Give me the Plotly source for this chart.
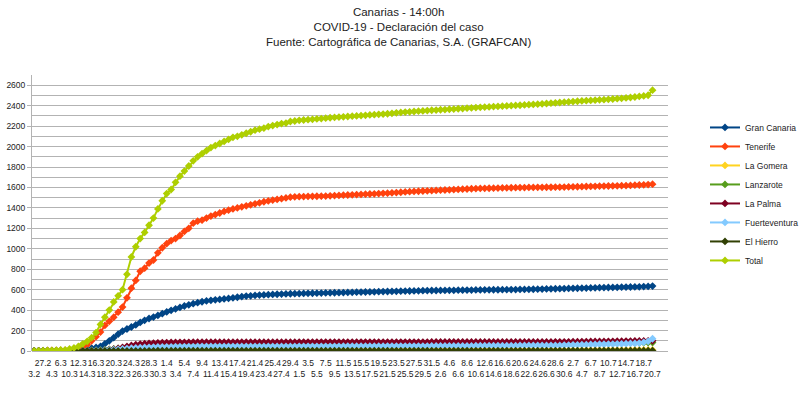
import plotly.graph_objects as go

dates = [
    "3.2", "24.2", "27.2", "1.3", "4.3", "5.3", "6.3", "9.3",
    "10.3", "11.3", "12.3", "13.3", "14.3", "15.3", "16.3", "17.3", "18.3", "19.3",
    "20.3", "21.3", "22.3", "23.3", "24.3", "25.3", "26.3", "27.3", "28.3", "29.3",
    "30.3", "31.3",
    "1.4", "2.4", "3.4", "4.4", "5.4", "6.4", "7.4", "8.4", "9.4", "10.4",
    "11.4", "12.4", "13.4", "14.4", "15.4", "16.4", "17.4", "18.4", "19.4", "20.4",
    "21.4", "22.4", "23.4", "24.4", "25.4", "26.4", "27.4", "28.4", "29.4", "30.4",
    "1.5", "2.5", "3.5", "4.5", "5.5", "6.5", "7.5", "8.5", "9.5", "10.5",
    "11.5", "12.5", "13.5", "14.5", "15.5", "16.5", "17.5", "18.5", "19.5", "20.5",
    "21.5", "22.5", "23.5", "24.5", "25.5", "26.5", "27.5", "28.5", "29.5", "30.5",
    "31.5",
    "1.6", "2.6", "3.6", "4.6", "5.6", "6.6", "7.6", "8.6", "9.6", "10.6",
    "11.6", "12.6", "13.6", "14.6", "15.6", "16.6", "17.6", "18.6", "19.6", "20.6",
    "21.6", "22.6", "23.6", "24.6", "25.6", "26.6", "27.6", "28.6", "29.6", "30.6",
    "1.7", "2.7", "3.7", "4.7", "5.7", "6.7", "7.7", "8.7", "9.7", "10.7",
    "11.7", "12.7", "13.7", "14.7", "15.7", "16.7", "17.7", "18.7", "19.7", "20.7",
]

gran_canaria = [
    0, 0, 0, 0, 1, 2, 3, 4,
    6, 8, 10, 14, 20, 28, 35, 45, 70, 100,
    130, 165, 195, 215, 235, 255, 280, 300, 318, 332,
    348, 365, 382, 398, 412, 426, 440, 452, 463, 473,
    482, 490, 496, 501, 505, 509, 514, 520, 526, 532,
    537, 540, 544, 547, 549, 551, 553, 555, 557, 558,
    560, 561,
    562, 563, 564, 565, 566, 567, 568, 569, 570, 571,
    572, 573, 574, 575, 576, 577, 578, 579, 580, 581,
    582, 583, 584, 585, 586, 587, 588, 589, 590, 591,
    592, 592, 593, 593, 594, 594, 595, 595, 596, 596,
    597, 597, 598, 598, 599, 599, 600, 600, 601, 601,
    602, 602, 603, 604, 605, 606, 607, 608, 609, 610,
    611, 612, 613, 614, 615, 616, 617, 618, 619, 620,
    621, 622, 623, 624, 625, 626, 627, 628, 630, 632,
    635,
]

tenerife = [
    0, 1, 3, 6, 7, 7, 7, 7,
    10, 14, 22, 35, 60, 100, 140, 185, 250, 290,
    330, 380, 430, 520, 615, 690, 780, 810, 860, 890,
    960, 1010, 1050, 1080, 1100, 1130, 1170, 1200, 1250, 1270,
    1280, 1300, 1320, 1335, 1350, 1365, 1378, 1390, 1400, 1410,
    1420, 1430, 1440, 1450, 1460, 1468, 1476, 1483, 1490, 1497,
    1505, 1508,
    1510, 1511, 1512, 1513, 1514, 1515, 1516, 1518, 1520, 1522,
    1524, 1526, 1528, 1530, 1532, 1534, 1536, 1538, 1540, 1542,
    1544, 1547, 1550, 1553, 1556, 1559, 1561, 1563, 1565, 1567,
    1569, 1571, 1573, 1575, 1577, 1579, 1581, 1583, 1585, 1587,
    1589, 1590, 1591, 1592, 1593, 1594, 1595, 1596, 1597, 1598,
    1599, 1599, 1600, 1600, 1601, 1601, 1602, 1602, 1603, 1603,
    1604, 1605, 1606, 1607, 1608, 1609, 1610, 1611, 1612, 1613,
    1614, 1615, 1616, 1617, 1618, 1620, 1622, 1624, 1626, 1628,
    1632,
]

la_gomera = [
    1, 1, 1, 1, 1, 1, 1, 1,
    1, 1, 1, 1, 2, 2, 2, 3, 3, 3,
    3, 4, 4, 4, 5, 5, 5, 6, 6, 6,
    6, 7, 7, 7, 7, 7, 7, 7, 7, 7,
    7, 7, 7, 7, 7, 7, 7, 7, 7, 7,
    7, 7, 7, 7, 7, 7, 7, 7, 7, 7,
    7, 7,
    7, 7, 7, 7, 7, 7, 7, 7, 7, 7,
    7, 7, 7, 7, 7, 7, 7, 7, 7, 7,
    8, 8, 8, 8, 8, 8, 8, 8, 8, 8,
    8, 8, 8, 8, 8, 8, 8, 8, 8, 8,
    8, 8, 8, 8, 8, 8, 8, 8, 8, 8,
    8, 8, 8, 8, 8, 8, 8, 8, 8, 8,
    8, 8, 8, 8, 9, 9, 9, 9, 9, 9,
    9, 9, 9, 9, 10, 10, 10, 10, 10, 10,
    10,
]

lanzarote = [
    0, 0, 0, 0, 0, 0, 0, 0,
    0, 1, 2, 3, 4, 5, 7, 9, 12, 16,
    20, 25, 30, 36, 41, 46, 50, 54, 57, 60,
    62, 63, 64, 65, 66, 67, 67, 68, 68, 68,
    68, 68, 68, 68, 68, 68, 68, 68, 68, 68,
    69, 69, 69, 69, 69, 69, 69, 69, 69, 69,
    69, 69,
    69, 69, 69, 69, 69, 69, 69, 69, 69, 69,
    70, 70, 70, 70, 70, 70, 70, 70, 70, 70,
    70, 70, 70, 70, 70, 70, 70, 70, 70, 70,
    71, 71, 71, 71, 71, 71, 71, 71, 71, 71,
    71, 71, 71, 71, 71, 71, 71, 71, 71, 71,
    72, 72, 72, 72, 72, 72, 72, 72, 72, 72,
    72, 72, 73, 73, 74, 74, 75, 75, 76, 76,
    77, 77, 78, 78, 79, 79, 80, 80, 81, 82,
    82,
]

la_palma = [
    0, 0, 0, 0, 0, 0, 0, 0,
    0, 0, 0, 0, 0, 0, 2, 4, 8, 12,
    18, 25, 35, 45, 55, 62, 68, 72, 75, 78,
    80, 81, 82, 83, 84, 85, 85, 85, 86, 86,
    86, 86, 86, 86, 86, 86, 86, 86, 86, 86,
    86, 86, 86, 86, 86, 86, 86, 86, 86, 86,
    86, 86,
    87, 87, 87, 87, 87, 87, 87, 87, 87, 87,
    87, 87, 87, 87, 87, 87, 87, 87, 87, 87,
    87, 87, 87, 87, 87, 87, 87, 87, 87, 87,
    88, 88, 88, 88, 88, 88, 88, 88, 88, 88,
    88, 88, 88, 88, 88, 88, 88, 88, 88, 88,
    88, 89, 89, 89, 89, 89, 89, 89, 90, 90,
    90, 90, 91, 91, 92, 92, 93, 93, 94, 94,
    95, 95, 96, 96, 97, 97, 98, 98, 99, 100,
    100,
]

fuerteventura = [
    0, 0, 0, 0, 0, 0, 0, 0,
    0, 0, 1, 2, 3, 4, 5, 6, 8, 10,
    13, 16, 20, 24, 27, 30, 32, 34, 36, 38,
    39, 40, 41, 41, 42, 42, 43, 43, 43, 44,
    44, 44, 44, 44, 44, 44, 44, 44, 44, 44,
    45, 45, 45, 45, 45, 45, 45, 45, 45, 45,
    45, 45,
    46, 46, 46, 46, 46, 46, 46, 46, 46, 46,
    47, 47, 47, 47, 47, 47, 47, 47, 47, 47,
    48, 48, 48, 48, 48, 48, 48, 48, 48, 48,
    50, 50, 50, 50, 50, 50, 50, 50, 50, 50,
    52, 52, 52, 52, 52, 52, 52, 52, 52, 52,
    55, 55, 55, 55, 55, 55, 55, 55, 55, 55,
    58, 58, 60, 60, 62, 62, 64, 64, 66, 66,
    68, 68, 70, 70, 72, 74, 74, 78, 85, 95,
    120,
]

el_hierro = [
    0, 0, 0, 0, 0, 0, 0, 0,
    0, 0, 0, 0, 0, 0, 0, 0, 0, 0,
    0, 0, 0, 0, 0, 0, 1, 1, 2, 2,
    3, 3, 3, 3, 3, 3, 3, 3, 3, 3,
    3, 3, 3, 3, 3, 3, 3, 3, 3, 3,
    3, 3, 3, 3, 3, 3, 3, 3, 3, 3,
    3, 3,
    3, 3, 3, 3, 3, 3, 3, 3, 3, 3,
    3, 3, 3, 3, 3, 3, 3, 3, 3, 3,
    3, 3, 3, 3, 3, 3, 3, 3, 3, 3,
    3, 3, 3, 3, 3, 3, 3, 3, 3, 3,
    3, 3, 3, 3, 3, 3, 3, 3, 3, 3,
    3, 3, 3, 3, 3, 3, 3, 3, 3, 3,
    3, 3, 3, 3, 3, 3, 3, 3, 3, 3,
    3, 3, 3, 3, 3, 3, 3, 3, 3, 3,
    3,
]

total = [
    1, 2, 3, 6, 7, 8, 10, 11,
    20, 30, 45, 70, 95, 130, 180, 260, 330, 400,
    480, 540, 600, 750, 920, 1020, 1100, 1160, 1230, 1300,
    1390, 1470, 1540, 1580, 1650, 1710, 1760, 1810, 1860, 1900,
    1930, 1960, 1990, 2010, 2030, 2050, 2070, 2090, 2100, 2115,
    2130, 2145, 2160, 2170, 2180, 2195, 2205, 2215, 2225, 2230,
    2245, 2250,
    2257, 2260, 2263, 2266, 2270, 2274, 2278, 2282, 2285, 2288,
    2291, 2294, 2297, 2300, 2303, 2306, 2309, 2312, 2315, 2318,
    2321, 2325, 2330, 2334, 2337, 2340, 2343, 2346, 2349, 2352,
    2355, 2357, 2360, 2362, 2365, 2367, 2370, 2372, 2375, 2378,
    2381, 2384, 2386, 2388, 2391, 2393, 2395, 2397, 2400, 2402,
    2404, 2407, 2410, 2412, 2415, 2418, 2421, 2424, 2427, 2431,
    2434, 2437, 2440, 2443, 2446, 2449, 2451, 2454, 2457, 2459,
    2462, 2465, 2468, 2472, 2476, 2480, 2485, 2490, 2495, 2502,
    2552,
]

series_names = ["Gran Canaria", "Tenerife", "La Gomera", "Lanzarote",
                "La Palma", "Fuerteventura", "El Hierro", "Total"]
series_values = [gran_canaria, tenerife, la_gomera, lanzarote,
                 la_palma, fuerteventura, el_hierro, total]
series_colors = ["#004586", "#ff420e", "#ffd320", "#579d1c",
                 "#7e0021", "#83caff", "#314004", "#aecf00"]

tick_labels = dates[0::2]
y_ticks = [0, 200, 400, 600, 800, 1000, 1200, 1400, 1600, 1800,
           2000, 2200, 2400, 2600]

title_lines = ["Canarias - 14:00h",
               "COVID-19 - Declaración del caso",
               "Fuente: Cartográfica de Canarias, S.A. (GRAFCAN)"]

FONT = "Liberation Sans, Arial, sans-serif"
GRID = "#b3b3b3"
TXT = "#222222"
TICK_SIZE = 8.5

fig = go.Figure()
for name, vals, col in zip(series_names, series_values, series_colors):
    fig.add_trace(go.Scatter(
        x=dates, y=vals, name=name, mode="lines+markers",
        line=dict(color=col, width=2),
        marker=dict(symbol="diamond", size=6, color=col),
    ))

ticktext = [("<br>" + t) if i % 2 == 0 else t for i, t in enumerate(tick_labels)]

fig.add_annotation(
    text="<br>".join(title_lines),
    xref="paper", yref="paper", x=(398 - 32) / 636, y=1 + (75 - 4) / 276,
    xanchor="center", yanchor="top", showarrow=False, align="center",
    font=dict(family=FONT, size=11.5, color=TXT),
)

fig.update_layout(
    template="none",
    width=800, height=393, autosize=False,
    paper_bgcolor="white", plot_bgcolor="white",
    margin=dict(l=32, r=132, t=75, b=42, pad=0, autoexpand=False),
    font=dict(family=FONT, size=TICK_SIZE, color=TXT),
    showlegend=True,
    legend=dict(
        x=(705 - 32) / 636, xanchor="left", y=0.569, yanchor="middle",
        font=dict(family=FONT, size=8.5, color=TXT),
        bgcolor="rgba(0,0,0,0)", tracegroupgap=0,
    ),
    xaxis=dict(
        type="category", categoryorder="array", categoryarray=dates,
        range=[-0.5, 143.5], automargin=False,
        tickmode="array", tickvals=tick_labels, ticktext=ticktext,
        tickangle=0, showgrid=False, ticks="", ticklabelstandoff=5,
        showline=False, zeroline=False,
        tickfont=dict(family=FONT, size=TICK_SIZE, color=TXT),
    ),
    yaxis=dict(
        range=[0, 2700], tickmode="array", tickvals=y_ticks, automargin=False,
        showgrid=True, gridcolor=GRID, gridwidth=1,
        minor=dict(dtick=100, tick0=0, showgrid=True, gridcolor=GRID, gridwidth=1),
        zeroline=True, zerolinecolor=GRID, zerolinewidth=1,
        showline=True, linecolor=GRID, linewidth=1,
        ticks="outside", ticklen=4, tickcolor=GRID,
        tickfont=dict(family=FONT, size=TICK_SIZE, color=TXT),
    ),
    yaxis2=dict(
        overlaying="y", side="right", anchor="x", automargin=False,
        range=[0, 2700], tickmode="array", tickvals=y_ticks,
        showgrid=False, zeroline=False,
        showline=True, linecolor=GRID, linewidth=1,
        ticks="outside", ticklen=5, tickcolor=GRID, ticklabelstandoff=4,
        tickfont=dict(family=FONT, size=TICK_SIZE, color=TXT),
    ),
)

fig.write_html("out.html", config={"displayModeBar": False},
               post_script="document.body.style.margin='0';")
